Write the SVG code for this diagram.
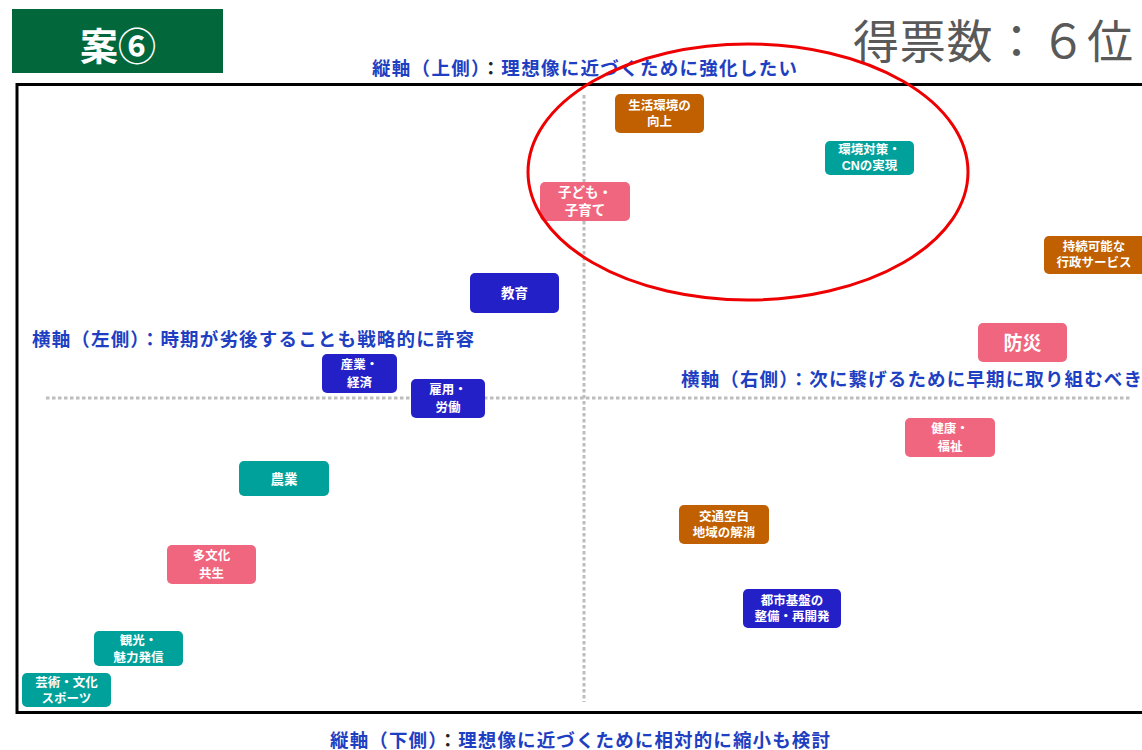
<svg xmlns="http://www.w3.org/2000/svg" width="1142" height="750" viewBox="0 0 1142 750">
<style>
.ax{font-family:"Noto Sans CJK JP","Noto Sans CJK SC",sans-serif;font-weight:bold;font-size:18.5px;fill:#1E3FC2}
.dk{fill:#222}
.nt{font-family:"Liberation Sans","Noto Sans CJK JP","Noto Sans CJK SC",sans-serif;font-weight:bold;font-size:12.5px;fill:#fff;text-anchor:middle}
.lg{font-size:13.5px}
.xl{font-size:19px}
.or{fill:#C06000}
.te{fill:#00A19A}
.pk{fill:#F0667E}
.bl{fill:#2420C8}
.dot{stroke:#BDBDBD;stroke-width:3;stroke-dasharray:3.5 2.5;fill:none}
</style>
<rect width="1142" height="750" fill="#fff"/>
<g id="header">
<rect x="12" y="9" width="211" height="64" fill="#02683B"/>
<text x="118" y="60" text-anchor="middle" font-family="Noto Sans CJK JP, sans-serif" font-weight="bold" font-size="38" fill="#fff">案⑥</text>
</g>
<g id="title">
<text x="853" y="58" font-family="Noto Sans CJK JP, sans-serif" font-size="46" fill="#595959" textLength="280" lengthAdjust="spacing">得票数：６位</text>
</g>
<g id="frame">
<rect x="17" y="84.5" width="1140" height="628" fill="none" stroke="#000" stroke-width="3"/>
</g>
<g id="axes">
<line class="dot" x1="584" y1="95" x2="584" y2="702"/>
<line class="dot" x1="46" y1="398" x2="1130" y2="398"/>
</g>
<g id="axis-labels">
<text class="ax" x="372" y="75" textLength="425" lengthAdjust="spacing">縦軸（上側）<tspan class="dk">：</tspan>理想像に近づくために強化したい</text>
<text class="ax" x="330" y="747" textLength="500" lengthAdjust="spacing">縦軸（下側）<tspan class="dk">：</tspan>理想像に近づくために相対的に縮小も検討</text>
<text class="ax" x="32" y="346" textLength="442" lengthAdjust="spacing">横軸（左側）：時期が劣後することも戦略的に許容</text>
<text class="ax" x="681" y="386" textLength="461" lengthAdjust="spacing">横軸（右側）：次に繋げるために早期に取り組むべき</text>
</g>
<g id="connectors"></g>
<g id="node-seikatsu"><rect class="or" x="615" y="94" width="89" height="39" rx="5"/><text class="nt" x="659.5" y="110">生活環境の<tspan x="659.5" dy="16">向上</tspan></text></g>
<g id="node-kankyo"><rect class="te" x="825" y="141" width="89" height="34" rx="5"/><text class="nt" x="869.5" y="154">環境対策・<tspan x="869.5" dy="16">CNの実現</tspan></text></g>
<g id="node-kodomo"><rect class="pk" x="540" y="182" width="90" height="39" rx="5"/><text class="nt lg" x="585" y="197">子ども・<tspan x="585" dy="18">子育て</tspan></text></g>
<g id="node-jizoku"><rect class="or" x="1044" y="236" width="104" height="38" rx="5"/><text class="nt" x="1094" y="251">持続可能な<tspan x="1094" dy="16">行政サービス</tspan></text></g>
<g id="node-kyoiku"><rect class="bl" x="470" y="273" width="89" height="40" rx="5"/><text class="nt lg" x="514.5" y="298">教育</text></g>
<g id="node-bosai"><rect class="pk" x="978" y="323" width="89" height="39" rx="5"/><text class="nt xl" x="1022.5" y="349.5">防災</text></g>
<g id="node-sangyo"><rect class="bl" x="322" y="354" width="75" height="39" rx="5"/><text class="nt" x="359.5" y="369">産業・<tspan x="359.5" dy="18">経済</tspan></text></g>
<g id="node-koyo"><rect class="bl" x="411" y="379" width="74" height="39" rx="5"/><text class="nt" x="448" y="394">雇用・<tspan x="448" dy="18">労働</tspan></text></g>
<g id="node-kenko"><rect class="pk" x="905" y="418" width="90" height="39" rx="5"/><text class="nt" x="950" y="433">健康・<tspan x="950" dy="18">福祉</tspan></text></g>
<g id="node-nogyo"><rect class="te" x="239" y="461" width="90" height="35" rx="5"/><text class="nt lg" x="284" y="483.5">農業</text></g>
<g id="node-kotsu"><rect class="or" x="679" y="505" width="90" height="39" rx="5"/><text class="nt" x="724" y="521">交通空白<tspan x="724" dy="16">地域の解消</tspan></text></g>
<g id="node-tabunka"><rect class="pk" x="167" y="545" width="89" height="39" rx="5"/><text class="nt" x="211.5" y="560">多文化<tspan x="211.5" dy="18">共生</tspan></text></g>
<g id="node-toshi"><rect class="bl" x="743" y="589" width="98" height="39" rx="5"/><text class="nt" x="792" y="605">都市基盤の<tspan x="792" dy="16">整備・再開発</tspan></text></g>
<g id="node-kanko"><rect class="te" x="94" y="631" width="89" height="35" rx="5"/><text class="nt" x="138.5" y="645">観光・<tspan x="138.5" dy="17">魅力発信</tspan></text></g>
<g id="node-geijutsu"><rect class="te" x="22" y="673" width="89" height="34" rx="5"/><text class="nt" x="66.5" y="687">芸術・文化<tspan x="66.5" dy="16">スポーツ</tspan></text></g>
<g id="highlight">
<ellipse cx="748" cy="172" rx="220" ry="128" fill="none" stroke="#EE0000" stroke-width="3"/>
</g>
</svg>
